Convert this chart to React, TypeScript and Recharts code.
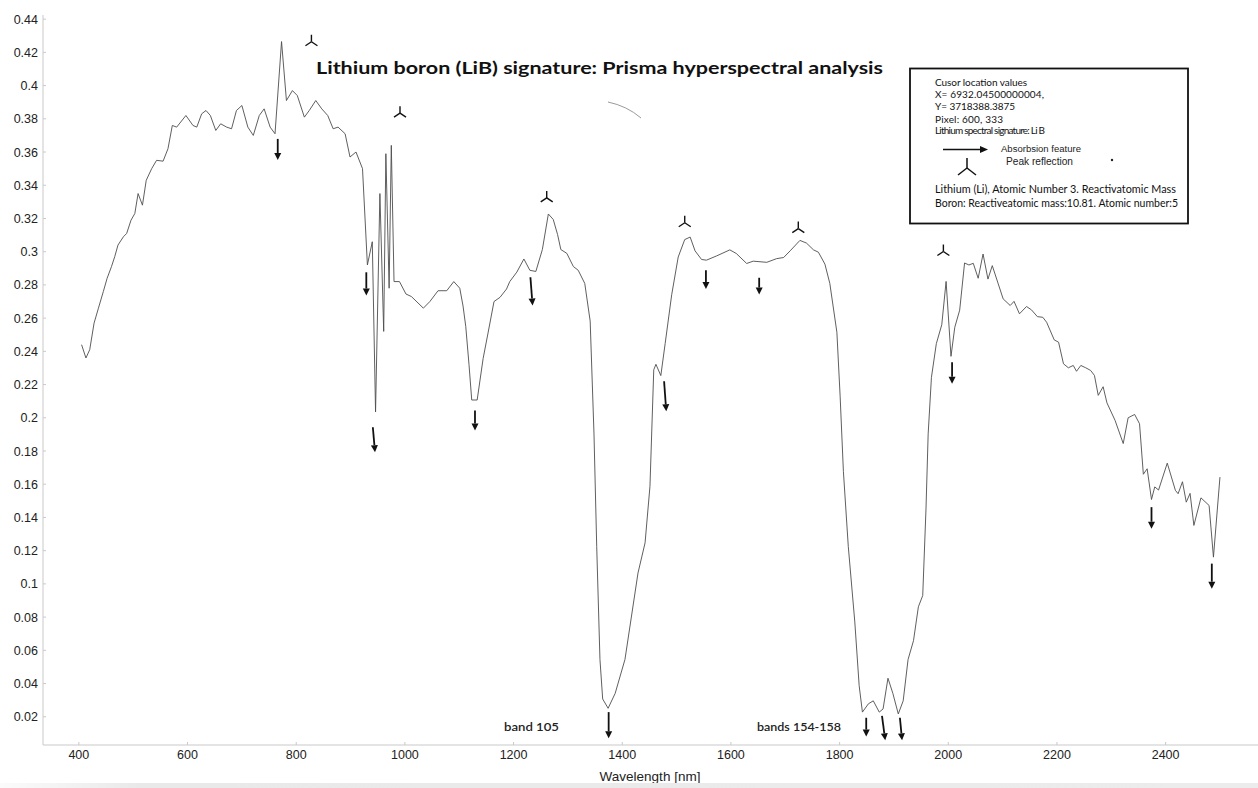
import * as React from "react";
import { Line, LineChart, ReferenceDot, ReferenceLine, XAxis, YAxis } from "recharts";

// Prisma reflectance spectrum.
const WAVELENGTH = [
  405, 413, 420, 428, 436, 445, 452, 460, 466, 472, 482, 488, 496, 503, 509, 517, 524, 534, 543, 555,
  564, 572, 580, 597, 610, 617, 626, 634, 642, 652, 661, 672, 681, 690, 700, 711, 721, 732, 741, 752,
  761, 773, 782, 793, 802, 815, 824, 836, 847, 858, 868, 877, 890, 899, 910, 922, 931, 940, 946, 954,
  961, 965, 971, 975, 980, 990, 1002, 1012, 1034, 1046, 1061, 1077, 1090, 1101, 1107, 1112, 1118, 1123, 1133, 1144,
  1153, 1164, 1175, 1187, 1193, 1206, 1219, 1230, 1241, 1253, 1264, 1273, 1281, 1287, 1298, 1310, 1319, 1331, 1341, 1348,
  1353, 1359, 1364, 1374, 1387, 1405, 1429, 1442, 1451, 1458, 1462, 1471, 1479, 1491, 1503, 1515, 1525, 1534, 1546, 1555,
  1574, 1598, 1610, 1629, 1641, 1666, 1684, 1697, 1709, 1727, 1739, 1752, 1761, 1773, 1782, 1795, 1801, 1807, 1816, 1828,
  1836, 1842, 1853, 1862, 1873, 1880, 1889, 1898, 1908, 1917, 1926, 1936, 1945, 1953, 1959, 1963, 1969, 1978, 1988, 1996,
  2005, 2012, 2021, 2030, 2038, 2046, 2055, 2064, 2073, 2081, 2092, 2101, 2114, 2121, 2131, 2144, 2153, 2164, 2174, 2181,
  2195, 2203, 2212, 2221, 2230, 2236, 2244, 2253, 2262, 2269, 2276, 2285, 2292, 2307, 2322, 2331, 2343, 2352, 2359, 2366,
  2374, 2380, 2387, 2403, 2418, 2423, 2431, 2438, 2445, 2452, 2465, 2480, 2488, 2500,
];
const REFLECTANCE = [
  0.244, 0.236, 0.241, 0.257, 0.266, 0.276, 0.284, 0.291, 0.297, 0.304, 0.309, 0.311, 0.319, 0.323, 0.335, 0.328, 0.343, 0.35, 0.355, 0.3545,
  0.362, 0.376, 0.375, 0.382, 0.376, 0.375, 0.383, 0.385, 0.382, 0.373, 0.377, 0.375, 0.374, 0.385, 0.388, 0.375, 0.37, 0.382, 0.386, 0.375,
  0.371, 0.4265, 0.391, 0.397, 0.394, 0.381, 0.385, 0.391, 0.386, 0.382, 0.374, 0.375, 0.371, 0.357, 0.36, 0.35, 0.292, 0.306, 0.2035, 0.335,
  0.252, 0.359, 0.278, 0.364, 0.282, 0.282, 0.2745, 0.273, 0.266, 0.27, 0.2765, 0.2765, 0.282, 0.278, 0.2673, 0.255, 0.232, 0.2107, 0.2107, 0.2357,
  0.251, 0.27, 0.2725, 0.2775, 0.282, 0.2877, 0.2956, 0.2888, 0.2881, 0.3013, 0.3227, 0.3194, 0.3103, 0.3013, 0.299, 0.2911, 0.2888, 0.2809, 0.2582, 0.1903,
  0.1225, 0.0545, 0.0307, 0.0251, 0.0341, 0.0545, 0.1066, 0.1247, 0.1587, 0.2289, 0.2322, 0.2254, 0.2447, 0.2741, 0.2968, 0.3073, 0.3088, 0.3005, 0.2953, 0.2949,
  0.2975, 0.3011, 0.2989, 0.2929, 0.2943, 0.2936, 0.2958, 0.2965, 0.3005, 0.3068, 0.3052, 0.3011, 0.2997, 0.2925, 0.2809, 0.2515, 0.213, 0.1677, 0.1225, 0.0771,
  0.0387, 0.0228, 0.0278, 0.0296, 0.0228, 0.0247, 0.0432, 0.0341, 0.0217, 0.0296, 0.0545, 0.0658, 0.0862, 0.093, 0.1451, 0.1903, 0.2243, 0.2446, 0.256, 0.2821,
  0.237, 0.2545, 0.2648, 0.2932, 0.292, 0.293, 0.284, 0.2986, 0.2835, 0.2916, 0.2806, 0.2716, 0.2676, 0.2701, 0.2626, 0.267, 0.265, 0.2609, 0.2605, 0.2575,
  0.2469, 0.2455, 0.2325, 0.2301, 0.2315, 0.228, 0.2315, 0.2301, 0.2285, 0.2255, 0.2135, 0.2187, 0.209, 0.1984, 0.1845, 0.2, 0.202, 0.1964, 0.166, 0.1693,
  0.1508, 0.1584, 0.1565, 0.1727, 0.1563, 0.1543, 0.1615, 0.1492, 0.1545, 0.1352, 0.1518, 0.1472, 0.1161, 0.1643,
];

// Absorption arrows (tail -> tip) and peak-reflection markers, in data units.
const ARROW_WL_TOP = [766, 929, 941, 1129, 1231, 1375, 1477, 1554, 1652, 1849, 1878, 1911, 2007, 2374, 2485];
const ARROW_WL_TIP = [766, 929, 945, 1129, 1235, 1375, 1481, 1554, 1652, 1849, 1884, 1915, 2007, 2374, 2485];
const ARROW_TOP = [0.3679, 0.2876, 0.1943, 0.2044, 0.2846, 0.0228, 0.222, 0.2888, 0.2843, 0.0194, 0.0206, 0.0194, 0.2335, 0.1462, 0.1122];
const ARROW_TIP = [0.3552, 0.2736, 0.1793, 0.1924, 0.2676, 0.007, 0.2039, 0.2775, 0.2742, 0.0081, 0.0058, 0.0058, 0.2205, 0.1332, 0.0971];

const PEAK_WL = [828, 991, 1261, 1515, 1724, 1991];
const PEAK_Y = [0.427, 0.384, 0.333, 0.318, 0.3145, 0.3007];

const X_TICKS = [400, 600, 800, 1000, 1200, 1400, 1600, 1800, 2000, 2200, 2400];
const Y_TICKS = [
  0.02, 0.04, 0.06, 0.08, 0.1, 0.12, 0.14, 0.16, 0.18, 0.2, 0.22, 0.24, 0.26, 0.28, 0.3, 0.32, 0.34, 0.36,
  0.38, 0.4, 0.42, 0.44,
];

const LEGEND_LINES = [
  "Cusor location values",
  "X= 6932.04500000004,",
  "Y= 3718388.3875",
  "Pixel: 600, 333",
  "Lithium spectral signature: Li B",
];

const data = WAVELENGTH.map((wl, i) => ({ wl, v: REFLECTANCE[i] }));

const AXIS = "#c9c9c9";
const TICK_FONT = "'Liberation Sans', Arial, sans-serif";
const GEO_FONT = "Lato, 'Noto Sans', sans-serif";

function XTick(props: any) {
  const { x, y, payload } = props;
  return (
    <g>
      <line x1={x} y1={y - 3} x2={x} y2={y} stroke={AXIS} />
      <text x={x} y={y + 14} textAnchor="middle" fontSize={12.5} fill="#222" fontFamily={TICK_FONT}>
        {payload.value}
      </text>
    </g>
  );
}

function YTick(props: any) {
  const { x, y, payload } = props;
  return (
    <g>
      <line x1={x} y1={y} x2={x + 3} y2={y} stroke={AXIS} />
      <text x={x - 5} y={y + 4.5} textAnchor="end" fontSize={12.5} fill="#222" fontFamily={TICK_FONT}>
        {String(Number(payload.value.toFixed(2)))}
      </text>
    </g>
  );
}

function Arrow(props: any) {
  const { x1, y1, x2, y2 } = props;
  if ([x1, y1, x2, y2].some((n) => typeof n !== "number")) return null;
  const dx = x2 - x1;
  const dy = y2 - y1;
  const len = Math.hypot(dx, dy) || 1;
  const ux = dx / len;
  const uy = dy / len;
  const hl = 7;
  const hw = 3.5;
  const bx = x2 - ux * hl;
  const by = y2 - uy * hl;
  return (
    <g>
      <line x1={x1} y1={y1} x2={bx} y2={by} stroke="#111" strokeWidth={1.8} />
      <polygon
        points={`${x2},${y2} ${bx - uy * hw},${by + ux * hw} ${bx + uy * hw},${by - ux * hw}`}
        fill="#111"
      />
    </g>
  );
}

function PeakMark(props: any) {
  const { cx, cy } = props;
  if (typeof cx !== "number" || typeof cy !== "number") return null;
  return (
    <g stroke="#111" strokeWidth={1.4} fill="none">
      <line x1={cx} y1={cy - 6} x2={cx} y2={cy + 1} />
      <line x1={cx} y1={cy + 1} x2={cx - 6} y2={cy + 5} />
      <line x1={cx} y1={cy + 1} x2={cx + 6} y2={cy + 5} />
    </g>
  );
}

function Overlay() {
  return (
    <svg width={1258} height={788} style={{ position: "absolute", left: 0, top: 0, pointerEvents: "none" }}>
      <text x={316} y={74} fontSize={17} fontWeight={700} fontFamily={GEO_FONT} fill="#111" textLength={567} lengthAdjust="spacingAndGlyphs">
        Lithium boron (LiB) signature: Prisma hyperspectral analysis
      </text>
      <path d="M608,102 Q627,106 641,118" stroke="#9a9a9a" strokeWidth={1} fill="none" />

      <rect x={910} y={68.5} width={278} height={155} fill="#fff" stroke="#111" strokeWidth={1.8} />
      {LEGEND_LINES.map((t, i) => (
        <text key={t} x={935} y={[86, 97.5, 110, 122.5, 134][i]} fontSize={10} fontFamily={GEO_FONT} fill="#111"
          textLength={[92, 109, 80, 68, 110][i]} lengthAdjust="spacing">
          {t}
        </text>
      ))}
      <line x1={943} y1={149.5} x2={980} y2={149.5} stroke="#111" strokeWidth={1.6} />
      <polygon points="988,149.5 980,146 980,153" fill="#111" />
      <text x={1001} y={152} fontSize={8.5} fontFamily={TICK_FONT} fill="#222" textLength={80} lengthAdjust="spacingAndGlyphs">
        Absorbsion feature
      </text>
      <text x={1006} y={164.5} fontSize={10} fontFamily={TICK_FONT} fill="#222" textLength={67} lengthAdjust="spacingAndGlyphs">
        Peak reflection
      </text>
      <circle cx={1112} cy={160} r={1.2} fill="#222" />
      <g stroke="#111" strokeWidth={1.5} fill="none">
        <line x1={967} y1={158} x2={967} y2={168} />
        <line x1={967} y1={168} x2={958} y2={175} />
        <line x1={967} y1={168} x2={976} y2={175} />
      </g>
      <text x={935} y={192.5} fontSize={10.5} fontFamily={GEO_FONT} fill="#111" textLength={241} lengthAdjust="spacingAndGlyphs">
        Lithium (Li), Atomic Number 3. Reactivatomic Mass
      </text>
      <text x={935} y={206.5} fontSize={10.5} fontFamily={GEO_FONT} fill="#111" textLength={243} lengthAdjust="spacingAndGlyphs">
        Boron: Reactiveatomic mass:10.81. Atomic number:5
      </text>

      <text x={504} y={730.5} fontSize={12} fontWeight={600} fontFamily={GEO_FONT} fill="#222" textLength={55} lengthAdjust="spacingAndGlyphs">
        band 105
      </text>
      <text x={757} y={730.5} fontSize={12} fontWeight={600} fontFamily={GEO_FONT} fill="#222" textLength={84} lengthAdjust="spacingAndGlyphs">
        bands 154-158
      </text>
      <text x={650} y={781} textAnchor="middle" fontSize={13.5} fontFamily={TICK_FONT} fill="#222">
        Wavelength [nm]
      </text>
    </svg>
  );
}

export default function App() {
  return (
    <div style={{ position: "absolute", left: 0, top: 0, width: 1258, height: 788, background: "#fff", overflow: "hidden" }}>
      <LineChart width={1258} height={788} data={data} margin={{ top: 15, right: 0, bottom: 0, left: 0 }}>
        <XAxis
          dataKey="wl"
          type="number"
          domain={[334, 2570]}
          allowDataOverflow
          ticks={X_TICKS}
          interval={0}
          height={43}
          tickSize={0}
          tickMargin={0}
          tickLine={false}
          stroke={AXIS}
          tick={<XTick />}
        />
        <YAxis
          type="number"
          domain={[0.003, 0.4425]}
          allowDataOverflow
          ticks={Y_TICKS}
          interval={0}
          width={43}
          tickSize={0}
          tickMargin={0}
          tickLine={false}
          stroke={AXIS}
          tick={<YTick />}
        />
        <Line
          type="linear"
          dataKey="v"
          stroke="#4d4d4d"
          strokeWidth={0.9}
          dot={false}
          activeDot={false}
          isAnimationActive={false}
        />
        {ARROW_WL_TOP.map((wl, i) => (
          <ReferenceLine
            key={`a${i}`}
            segment={[
              { x: wl, y: ARROW_TOP[i] },
              { x: ARROW_WL_TIP[i], y: ARROW_TIP[i] },
            ]}
            shape={(p: any) => <Arrow {...p} />}
          />
        ))}
        {PEAK_WL.map((wl, i) => (
          <ReferenceDot key={`p${i}`} x={wl} y={PEAK_Y[i]} r={6} shape={(p: any) => <PeakMark {...p} />} />
        ))}
      </LineChart>
      <Overlay />
      <div
        style={{
          position: "absolute",
          left: 0,
          top: 783,
          width: 1258,
          height: 5,
          background: "linear-gradient(to right, #fbfbfb 0px, #e9e9e9 140px, #ececec 100%)",
        }}
      />
    </div>
  );
}
